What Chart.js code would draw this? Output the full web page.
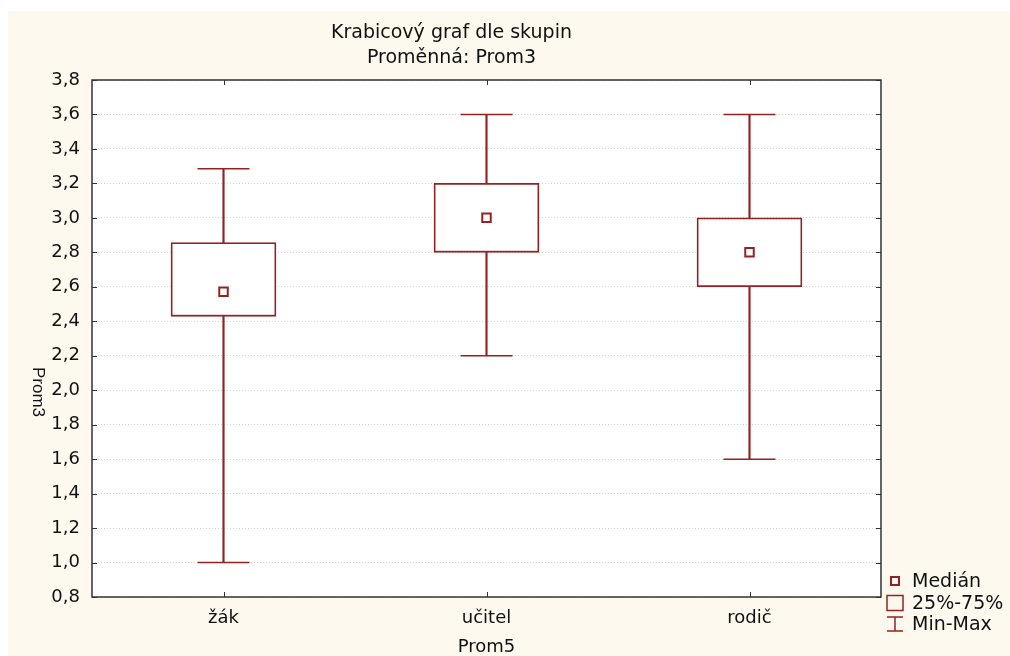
<!DOCTYPE html>
<html><head><meta charset="utf-8">
<script src="https://cdn.jsdelivr.net/npm/chart.js@4.4.1/dist/chart.umd.min.js"></script>
<style>html,body{margin:0;padding:0;background:#fff;}canvas{display:block;}</style>
</head><body>
<canvas id="c" width="1010" height="656"></canvas>
<script>
const categories = ['žák', 'učitel', 'rodič'];
const minValues = [1.0, 2.2, 1.6];
const q1Values = [2.4286, 2.8, 2.6];
const medianValues = [2.5714, 3.0, 2.8];
const q3Values = [2.8571, 3.2, 3.0];
const maxValues = [3.2857, 3.6, 3.6];
const yTickValues = [0.8, 1.0, 1.2, 1.4, 1.6, 1.8, 2.0, 2.2, 2.4, 2.6, 2.8, 3.0, 3.2, 3.4, 3.6, 3.8];
const titleLines = ['Krabicový graf dle skupin', 'Proměnná: Prom3'];
const xAxisTitle = 'Prom5';
const yAxisTitle = 'Prom3';
const legendLabels = ['Medián', '25%-75%', 'Min-Max'];

const RED = '#932323';
const FRAME = '#333333';
const CREAM = '#fdf9ee';
const FONT = '"DejaVu Sans", sans-serif';

const decorPlugin = {
  id: 'decor',
  beforeDraw(chart) {
    const ctx = chart.ctx, a = chart.chartArea;
    ctx.save();
    ctx.fillStyle = '#ffffff';
    ctx.fillRect(0, 0, chart.width, chart.height);
    ctx.fillStyle = CREAM;
    ctx.fillRect(8, 11, chart.width - 8, chart.height - 11);
    ctx.fillStyle = '#ffffff';
    ctx.fillRect(a.left, a.top, a.right - a.left, a.bottom - a.top);
    ctx.restore();
  },
  afterDraw(chart) {
    const ctx = chart.ctx, a = chart.chartArea;
    const xs = chart.scales.x, ys = chart.scales.y;
    ctx.save();
    ctx.strokeStyle = FRAME;
    ctx.lineWidth = 1;
    ctx.beginPath();
    ys.ticks.forEach((t, i) => {
      const y = Math.round(ys.getPixelForTick(i)) + 0.5;
      ctx.moveTo(a.left, y); ctx.lineTo(a.left + 5, y);
      ctx.moveTo(a.right - 5, y); ctx.lineTo(a.right, y);
    });
    xs.ticks.forEach((t, i) => {
      const x = Math.round(xs.getPixelForTick(i)) + 0.5;
      ctx.moveTo(x, a.top); ctx.lineTo(x, a.top + 5);
      ctx.moveTo(x, a.bottom - 5); ctx.lineTo(x, a.bottom);
    });
    ctx.stroke();
    ctx.lineWidth = 1.5;
    ctx.strokeRect(a.left, a.top, a.right - a.left, a.bottom - a.top);
    ctx.fillStyle = '#111';
    ctx.font = '17px "Liberation Sans", Arial, sans-serif';
    ctx.textAlign = 'center';
    ctx.textBaseline = 'middle';
    ctx.translate(37.5, 392);
    ctx.rotate(Math.PI / 2);
    ctx.fillText(yAxisTitle, 0, 0);
    ctx.restore();

    ctx.save();
    const ix = a.right + 14;
    const ly = [a.bottom - 16, a.bottom + 6, a.bottom + 27];
    ctx.strokeStyle = RED;
    ctx.lineWidth = 2;
    ctx.strokeRect(ix - 4, ly[0] - 4, 8, 8);
    ctx.lineWidth = 1.5;
    ctx.strokeRect(ix - 8, ly[1] - 7.5, 16, 15);
    ctx.beginPath();
    ctx.moveTo(ix, ly[2] - 7); ctx.lineTo(ix, ly[2] + 7);
    ctx.moveTo(ix - 8, ly[2] - 7); ctx.lineTo(ix + 8, ly[2] - 7);
    ctx.moveTo(ix - 8, ly[2] + 7); ctx.lineTo(ix + 8, ly[2] + 7);
    ctx.stroke();
    ctx.fillStyle = '#111';
    ctx.font = '19px ' + FONT;
    ctx.textAlign = 'left';
    ctx.textBaseline = 'middle';
    legendLabels.forEach((l, i) => ctx.fillText(l, ix + 17, ly[i] + 1));
    ctx.restore();
  }
};

new Chart(document.getElementById('c'), {
  type: 'bar',
  data: {
    labels: categories,
    datasets: [
      {
        type: 'line', label: 'Medián', data: medianValues, showLine: false, order: 0,
        pointStyle: 'rect', pointRadius: 6, pointHoverRadius: 6,
        pointBorderWidth: 2, pointBorderColor: RED, pointBackgroundColor: '#ffffff'
      },
      {
        type: 'line', label: 'Max', data: maxValues, showLine: false, order: 1,
        pointStyle: 'line', pointRadius: 26, pointHoverRadius: 26,
        pointBorderWidth: 1.5, pointBorderColor: RED
      },
      {
        type: 'line', label: 'Min', data: minValues, showLine: false, order: 1,
        pointStyle: 'line', pointRadius: 26, pointHoverRadius: 26,
        pointBorderWidth: 1.5, pointBorderColor: RED
      },
      {
        type: 'bar', label: '25%-75%', order: 2, grouped: false,
        data: categories.map((c, i) => [q1Values[i], q3Values[i]]),
        barThickness: 105, backgroundColor: '#ffffff', borderColor: RED,
        borderWidth: 1.8, borderSkipped: false
      },
      {
        type: 'bar', label: 'Min-Max', order: 3, grouped: false,
        data: categories.map((c, i) => [minValues[i], maxValues[i]]),
        barThickness: 1.5, backgroundColor: RED, borderWidth: 0
      }
    ]
  },
  options: {
    responsive: false,
    animation: false,
    events: [],
    layout: { padding: { left: 22, right: 129, top: 0, bottom: 0 } },
    plugins: {
      legend: { display: false },
      tooltip: { enabled: false },
      title: {
        display: true, text: titleLines, color: '#111',
        font: { family: FONT, size: 19, weight: 'normal', lineHeight: 1.3 },
        padding: { top: 20.6, bottom: 10 }
      }
    },
    scales: {
      x: {
        type: 'category', offset: true,
        afterFit(s) { s.height = 59; },
        grid: { display: false, drawTicks: false },
        border: { display: false },
        ticks: { color: '#111', padding: 11, font: { family: FONT, size: 18 } },
        title: {
          display: true, text: xAxisTitle, color: '#111', padding: 0,
          font: { family: FONT, size: 18, lineHeight: 1 }
        }
      },
      y: {
        min: 0.8, max: 3.8,
        afterFit(s) { s.width = 70; },
        afterBuildTicks(s) { s.ticks = yTickValues.map(v => ({ value: v })); },
        grid: { color: 'rgba(200,200,200,0.8)', lineWidth: 1, drawTicks: false },
        border: { display: false, dash: [1, 2] },
        ticks: {
          color: '#111', padding: 12, font: { family: FONT, size: 18 },
          callback: v => Number(v).toFixed(1).replace('.', ',')
        }
      }
    }
  },
  plugins: [decorPlugin]
});
</script>
</body></html>
